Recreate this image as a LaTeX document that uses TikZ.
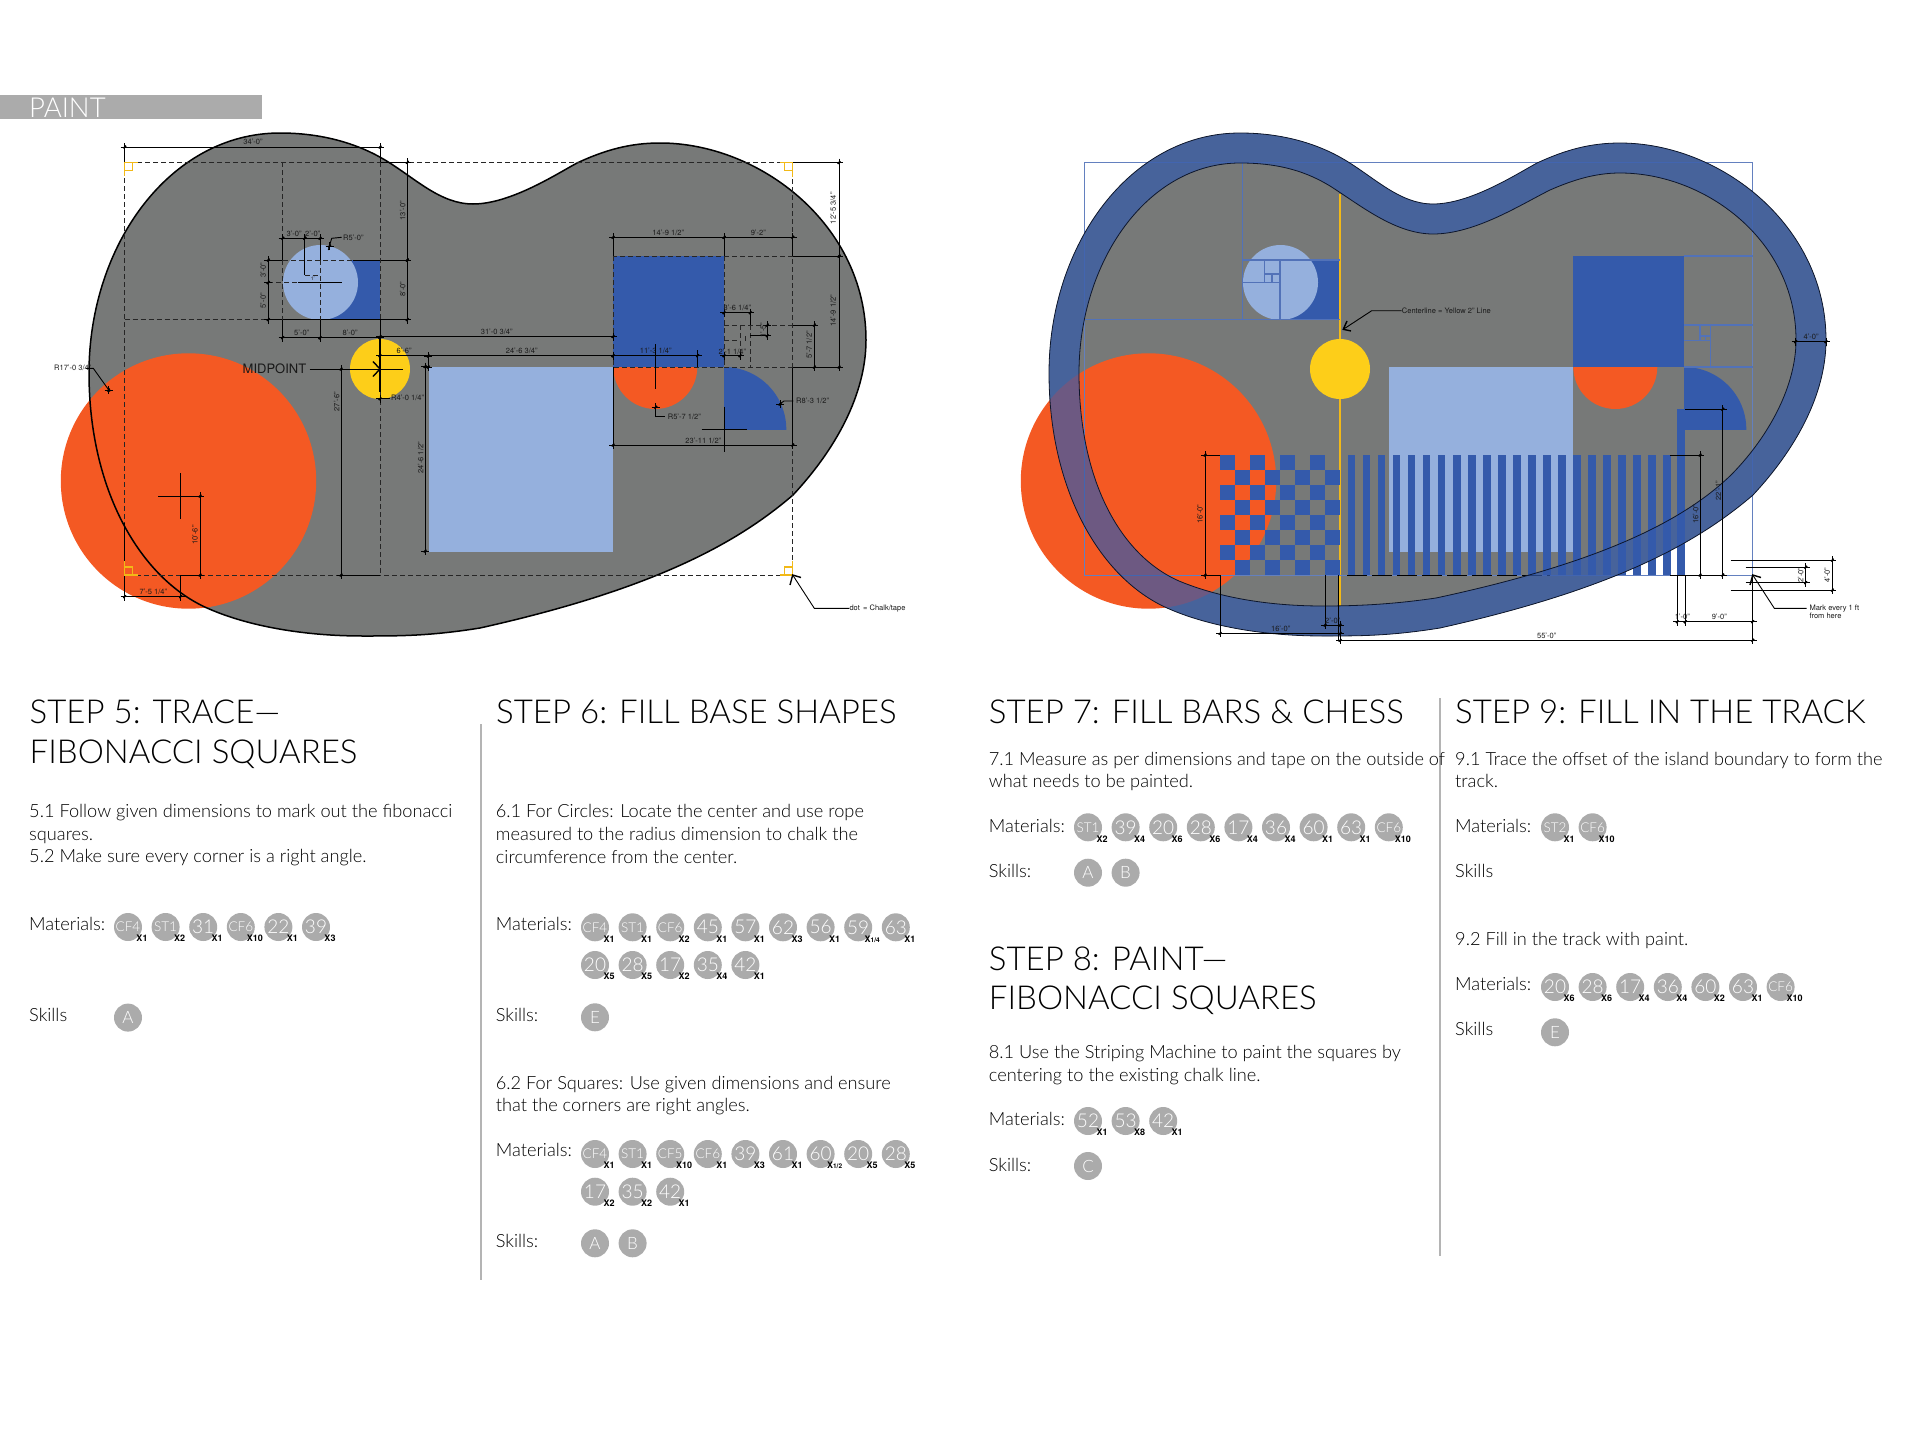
\documentclass[tikz,border=0pt]{standalone}
\usepackage{fontspec}
\setmainfont{TeX Gyre Heros}
\newfontfamily\lf{Lato Light}
\usetikzlibrary{arrows.meta}
\definecolor{isl}{HTML}{777978}
\definecolor{org}{HTML}{F45923}
\definecolor{yel}{HTML}{FDCE19}
\definecolor{ltb}{HTML}{95B0DD}
\definecolor{blu}{HTML}{345AAB}
\definecolor{pbar}{HTML}{ABABAB}
\definecolor{gold}{HTML}{F2B917}
\definecolor{fib}{HTML}{5272B8}
\definecolor{rule}{HTML}{B4B4B4}
\tikzset{
 dim/.style={line width=0.9pt,black},
 dsh/.style={line width=0.9pt,black!85,dash pattern=on 5pt off 3pt},
 fibl/.style={line width=1.2pt,fib},
 small/.style={inner sep=0pt,font=\fontsize{7.5}{7.5}\selectfont,text=black!90},
 stitle/.style={anchor=base west,inner sep=0pt,font=\lf\fontsize{33}{33}\selectfont,text=black},
 body/.style={anchor=base west,inner sep=0pt,font=\lf\fontsize{18.2}{18.2}\selectfont,text=black},
 disc/.style={circle,fill=pbar,inner sep=0pt,minimum size=28pt,text=white,font=\lf\fontsize{19}{19}\selectfont},
 qty/.style={inner sep=0pt,font=\fontsize{9}{9}\selectfont\bfseries,text=black},
}
\newcommand\sm{\fontsize{13.5}{13.5}\selectfont}
\newcommand\xq{X{\fontsize{6.5}{6.5}\selectfont 1/4}}
\newcommand\xh{X{\fontsize{6.5}{6.5}\selectfont 1/2}}
\newcommand\dtick[2]{\draw[dim] ({#1-4},#2) -- ({#1+4},#2) (#1,{#2-4}) -- (#1,{#2+4}); \draw[line width=1.5pt] ({#1-1.3},{#2+1.3}) -- ({#1+1.3},{#2-1.3});}
\newcommand\dimH[3]{\draw[dim] (#1,#3) -- (#2,#3); \dtick{#1}{#3}\dtick{#2}{#3}}
\newcommand\dimV[3]{\draw[dim] (#1,#2) -- (#1,#3); \dtick{#1}{#2}\dtick{#1}{#3}}
\newcommand\lab[3]{\node[small] at (#1,#2) {#3};}
\newcommand\labW[3]{\node[small,anchor=west] at (#1,#2) {#3};}
\newcommand\labV[3]{\node[small,rotate=90] at (#1,#2) {#3};}
\newcommand\ycorner[4]{\draw[gold,line width=1.2pt] (#1,#2) rectangle ({#1+8*#3},{#2+8*#4}) (#1,#2) -- ({#1+13*#3},#2) (#1,#2) -- (#1,{#2+14*#4});}
\newcommand\discs[3]{\foreach \a/\b [count=\i from 0] in {#3}{\node[disc] at ({#1+\i*37.6},#2) {\a}; \node[qty] at ({#1+\i*37.6+14},{#2+11.5}) {\b};}}
\newcommand\skl[3]{\foreach \a [count=\i from 0] in {#3}{\node[disc,font=\lf\fontsize{17}{17}\selectfont] at ({#1+\i*37.6},#2) {\a};}}
\newcommand\txt[3]{\node[body] at (#1,#2) {#3};}
\newcommand\ttl[3]{\node[stitle] at (#1,{#2+1}) {#3};}
% outer island boundary
\newcommand\outerB{(89,373) .. controls (89,245) and (170,133) .. (280,133)
 .. controls (325,133) and (360,145) .. (385,160)
 .. controls (415,178) and (440,204) .. (473,204)
 .. controls (510,204) and (555,175) .. (577,163)
 .. controls (605,150) and (630,143) .. (660,143)
 .. controls (760,143) and (866,225) .. (866,340)
 .. controls (866,395) and (835,450) .. (793,495)
 .. controls (735,545) and (650,590) .. (480,628)
 .. controls (430,636) and (400,636) .. (363,636)
 .. controls (300,636) and (245,625) .. (207,608)
 .. controls (140,578) and (89,490) .. (89,373) -- cycle}
\newcommand\innerB{(119,373) .. controls (119,262) and (187,163) .. (280,163)
 .. controls (320,163) and (347,172) .. (370,186)
 .. controls (400,205) and (435,234) .. (473,234)
 .. controls (515,234) and (560,205) .. (590,190)
 .. controls (613,180) and (635,173) .. (660,173)
 .. controls (745,173) and (836,240) .. (836,340)
 .. controls (836,385) and (810,435) .. (772,474)
 .. controls (720,525) and (630,565) .. (476,598)
 .. controls (435,604) and (400,606) .. (363,606)
 .. controls (310,606) and (260,598) .. (219,581)
 .. controls (160,555) and (119,480) .. (119,373) -- cycle}
\newcommand\baseshapes{%
 \fill[isl] \outerB;
 \fill[org] (188.5,481) circle[radius=127.7pt];
 \fill[blu] (320,260) rectangle (380,319.7);
 \fill[ltb] (320.5,282.5) circle[radius=37.5pt];
 \fill[yel] (380,369) circle[radius=30pt];
 \fill[ltb] (429,367) rectangle (613,552);
 \fill[blu] (613,256) rectangle (724,367);
 \begin{scope}\clip (613,367) rectangle (698,410); \fill[org] (655.3,367) circle[radius=42pt];\end{scope}
 \begin{scope}\clip (724,367) rectangle (787,429.3); \fill[blu] (724,429.3) circle[radius=62.3pt];\end{scope}
}
\begin{document}
\begin{tikzpicture}[x=1pt,y=-1pt]
\useasboundingbox (0,0) rectangle (1920,1440);
% header
\fill[pbar] (0,94.7) rectangle (262,119.3);
\node[anchor=base west,inner sep=0pt,text=white,font=\lf\fontsize{27.5}{27.5}\selectfont] at (29,117) {PAINT};
% ---------- LEFT PANEL ----------
\baseshapes
\draw[black,line width=1.5pt] \outerB;
\draw[dsh] (124.7,162.3) rectangle (792.7,575);
\draw[dsh] (613,256) rectangle (724,367);
\draw[dsh] (124.7,319.5) -- (268,319.5);
\draw[dsh] (283,260) -- (353,260);
\draw[dim] (353,260) -- (407,260) (268,319.5) -- (407,319.5) (268,260) -- (283,260) (380,162.3) -- (407.3,162.3);
\draw[dsh] (268,282.5) -- (298,282.5); \draw[dim] (298,282.5) -- (342,282.5);
\draw[dsh] (282.7,162.3) -- (282.7,238) (282.7,260) -- (282.7,320);
\draw[dim] (282.7,238) -- (282.7,260) (282.7,320) -- (282.7,342);
\draw[dim] (304.7,238) -- (304.7,275);
\draw[dim] (320,238) -- (320,260) (320,320) -- (320,342);
\draw[dsh] (320,260) -- (320,320) (304.7,275) -- (320,275);
\node[small,font=\fontsize{5}{5}\selectfont] at (312.7,278.5) {1'};
\dimH{124.7}{380}{147} \lab{253}{142.3}{34'-0"}
\draw[dim] (124.7,147) -- (124.7,162.3) (380,147) -- (380,162.3);
\draw[dsh] (380,162.3) -- (380,319.5) (380,392) -- (380,575);
\draw[dim] (380,319.5) -- (380,339);
\draw[line width=1.4pt] (380,339) -- (380,392);
\dimV{407.3}{162.3}{260} \labV{402.7}{210.7}{13'-0"}
\dimV{407.3}{260}{319.5} \labV{402.7}{289}{8'-0"}
\dimV{268.3}{260}{282.5} \labV{263.3}{270}{3'-0"}
\dimV{268.3}{282.5}{319.5} \labV{263.3}{300.7}{5'-0"}
\dimH{282.7}{304.7}{238.3} \lab{294}{234}{3'-0"}
\dimH{304.7}{320}{238.3} \lab{312.7}{234}{2'-0"}
\dimH{282.7}{320}{337.7} \lab{301.7}{333.3}{5'-0"}
\dimH{320}{380}{337.7} \lab{350}{333.3}{8'-0"}
\draw[dim] (328.3,250) -- (331.7,238.3) -- (341.7,237.3); \dtick{329.5}{246}
\labW{343}{237.5}{R5'-0"}
\labW{54}{368.3}{R17'-0 3/4"}
\draw[dim] (86,368.3) -- (93.3,368.3) -- (110,391.7); \dtick{108.5}{390}
\node[inner sep=0pt,anchor=east,font=\fontsize{13}{13}\selectfont,text=black!90] (mid) at (306.5,369) {MIDPOINT};
\coordinate (midend) at (402.7,369);
\coordinate (midtip) at (380,369);
\draw[dim] (mid.east) ++(3,0) -- (midend);
\draw[line width=1.4pt] (373,361.5) -- (midtip) -- (373,376.5);
\dimH{380}{613}{336.5} \lab{496.7}{331.7}{31'-0 3/4"}
\dimH{380}{613}{355.7} \lab{521.7}{351}{24'-6 3/4"}
\lab{404}{351}{6'-6"}
\dimV{428.3}{356}{367}
\dimV{425}{366.5}{551} \labV{420.7}{458}{24'-6 1/2"}
\dimV{341}{369}{575} \labV{336.7}{401.7}{27'-6"}
\draw[dim] (341,575) -- (380,575);
\dtick{380}{398.7}\draw[dim] (380,398.7) -- (390,398.7);
\labW{391}{398.3}{R4'-0 1/4"}
% orange cross
\draw[dim] (158,496) -- (204,496) (180.7,473) -- (180.7,519);
\dimV{200}{496}{575} \labV{195}{535}{10'-6"}
\draw[dim] (180.7,575) -- (200,575);
\dimH{124.7}{180.7}{596.7} \lab{153.3}{591.7}{7'-5 1/4"}
\draw[dim] (124.7,523) -- (124.7,596.7) (180.7,575) -- (180.7,596.7);
% right side
\dimV{839}{162.5}{256} \labV{833.3}{208.3}{12'-5 3/4"}
\dimV{839}{256}{367} \labV{833.3}{310.7}{14'-9 1/2"}
\draw[dim] (792.7,162.5) -- (839,162.5) (792.7,256) -- (839,256) (792.7,367) -- (839,367);
\dimH{613}{724}{237.3} \lab{668.3}{232.7}{14'-9 1/2"}
\dimH{724}{792.7}{237.3} \lab{758.3}{232.7}{9'-2"}
\draw[dim] (613,237.3) -- (613,256) (724,237.3) -- (724,256) (792.7,237.3) -- (792.7,256) (792.7,367) -- (792.7,445);
\draw[dsh] (724,256) -- (792.7,256) (724,367) -- (792.7,367) (724,325) -- (792.7,325) (750.3,325) -- (750.3,367) (740,325) -- (740,355.7) (724,340.7) -- (740,340.7) (745,336) -- (745,341);
\dimH{724}{750.3}{312.7} \lab{737.3}{308.3}{3'-6 1/4"}
\draw[dim] (750.3,312.7) -- (750.3,325) (750.3,335.7) -- (767.3,335.7) (792.7,325) -- (814.3,325) (792.7,367) -- (814.3,367);
\dimV{814.3}{325}{367} \labV{809.3}{345}{5'-7 1/2"}
\dimV{767.3}{325}{335.7} \labV{763.3}{330}{1'-5"}
\dimH{724}{740}{355.7} \lab{732.3}{351.7}{2'-1 1/4"}
\dimH{613}{697.7}{355.7} \lab{655.7}{351}{11'-3 1/4"}
\draw[dim] (697.7,350) -- (697.7,367);
\draw[dim] (655.3,344) -- (655.3,389.3);
\dtick{655.7}{407.3}\draw[dim] (655.7,407.3) -- (655.7,416.7) -- (665,416.7);
\labW{667.7}{416.7}{R5'-7 1/2"}
\draw[dim] (701.7,429.3) -- (746.7,429.3) (724,406.7) -- (724,452.3);
\draw[dim] (778.3,405) -- (784,401) -- (793.3,401); \dtick{780}{404}
\labW{796}{401}{R8'-3 1/2"}
\dimH{613}{792.7}{445} \lab{703.3}{440.7}{23'-11 1/2"}
\draw[dim] (613,367) -- (613,445);
\ycorner{124.7}{162.3}{1}{1}
\ycorner{792.7}{162.5}{-1}{1}
\ycorner{124.7}{575}{1}{-1}
\ycorner{792.7}{575}{-1}{-1}
\coordinate (dottip) at (792.7,575); \coordinate (dotb) at (814.3,608.3);
\node[small,anchor=west] (dotlab) at (849.3,608.3) {dot\, = Chalk/tape};
\draw[dim] (dottip) -- (dotb) -- (dotlab.west);
\draw[line width=1.4pt] (790,585) -- (dottip) -- (801,577.5);
% ---------- RIGHT PANEL ----------
\begin{scope}[xshift=960pt]
\baseshapes
\end{scope}
\draw[gold,line width=2pt] (1340,194) -- (1340,339) (1340,399) -- (1340,606);
\fill[blu] (1677.3,409.3) rectangle (1685.3,575);
\fill[blu] (1677.3,409.3) rectangle (1724,429.3);
\foreach \k in {0,...,21}{\fill[blu] ({1347.67+15.03*\k},455) rectangle ({1355.3+15.03*\k},575);}
\foreach \r in {0,...,7}{\foreach \c in {0,...,7}{\pgfmathparse{int(mod(\r+\c,2))}\ifnum\pgfmathresult=0 \fill[blu] ({1220+15*\c},{455+15*\r}) rectangle ({1235+15*\c},{470+15*\r});\fi}}
\draw[line width=1pt,fib!90!white] (1084.7,162.5) rectangle (1752.7,575);
\draw[fibl] (1085,319.7) -- (1340,319.7) (1242.7,162.5) -- (1242.7,319.7) (1242.7,260) -- (1340,260)
 (1280,260) -- (1280,319.7) (1242.7,282.4) -- (1280,282.4) (1264.7,260) -- (1264.7,282.4) (1264.7,274) -- (1280,274) (1272,274) -- (1272,282.4);
\draw[fibl] (1684.3,256) -- (1752.7,256) (1684.3,325) -- (1752.7,325) (1684.3,367) -- (1752.7,367) (1710.3,325) -- (1710.3,367) (1684.3,340.7) -- (1710.3,340.7) (1700,325) -- (1700,340.7) (1700,336) -- (1710.3,336) (1705.3,336) -- (1705.3,340.7);
\draw[black,line width=1pt,dash pattern=on 20pt off 5pt] (1347,575) -- (1550,575);
\begin{scope}[xshift=960pt]
\fill[blu,fill opacity=0.7,even odd rule] \outerB \innerB;
\draw[black!75!blu,line width=0.8pt] \outerB;
\draw[black!75!blu,line width=0.8pt] \innerB;
\end{scope}
% right dims
\dimV{1205}{455}{575} \labV{1200}{514.3}{16'-0"}
\draw[dim] (1205,455) -- (1220,455) (1205,575) -- (1220,575) (1220,575) -- (1220,633.3) (1325,575) -- (1325,625) (1338.7,575) -- (1338.7,641);
\dimH{1220}{1340}{633.3} \lab{1280.7}{629}{16'-0"}
\dimH{1325}{1340}{625} \lab{1332.7}{620.7}{2'-0"}
\dimH{1340}{1752.7}{640.3} \lab{1546.7}{636}{55'-0"}
\dimV{1700}{455}{575} \labV{1695.7}{514.3}{16'-0"}
\draw[dim] (1670,455) -- (1700,455) (1670,575) -- (1723,575);
\dimV{1722.7}{409.3}{575} \labV{1718.3}{490.7}{22'-1"}
\draw[dim] (1685,409.3) -- (1722.7,409.3);
\dimH{1677.3}{1685.3}{621.7} \lab{1682.3}{616.7}{1'-0"}
\dimH{1685.3}{1752.7}{621.7} \lab{1719.3}{616.7}{9'-0"}
\draw[dim] (1677.3,575) -- (1677.3,621.7) (1685.3,575) -- (1685.3,621.7);
\draw[line width=1.3pt] (1752.7,575) -- (1752.7,640);
\dimV{1832.3}{560}{590} \labV{1827.3}{575}{4'-0"}
\draw[dim] (1730.7,560) -- (1832.3,560) (1730.7,590) -- (1832.3,590);
\dimV{1805.7}{567.3}{582.7} \labV{1800.7}{575}{2'-0"}
\draw[dim] (1745.7,567.3) -- (1805.7,567.3) (1745.7,582.7) -- (1805.7,582.7);
\coordinate (marktip) at (1752.7,575); \coordinate (markb) at (1774.3,608.3);
\coordinate (markend) at (1806.7,608.3);
\draw[dim] (marktip) -- (markb) -- (markend);
\draw[line width=1.4pt] (1750,585) -- (marktip) -- (1761,577.5);
\node[small,anchor=west] at (1809.3,608.3) {Mark every 1 ft};
\node[small,anchor=west] at (1809.3,616) {from here};
\coordinate (ctip) at (1343.3,329.3); \coordinate (cb) at (1371.7,310.7);
\node[small,anchor=west] (clab) at (1401.7,310.7) {Centerline = Yellow 2" Line};
\draw[dim] (ctip) -- (cb) -- (clab.west);
\draw[line width=1.4pt] (1351,331) -- (ctip) -- (1347,321);
\dimH{1795.7}{1826}{341.7} \lab{1811}{337.3}{4'-0"}
% ---------- TEXT ----------
\draw[rule,line width=1.5pt] (481,724) -- (481,1280) (1440,698) -- (1440,1256);
% step 5
\ttl{29.5}{722.7}{STEP 5: TRACE—}
\ttl{29.5}{762.7}{FIBONACCI SQUARES}
\txt{29}{817.7}{5.1 Follow given dimensions to mark out the fibonacci}
\txt{29}{840}{squares.}
\txt{29}{862.7}{5.2 Make sure every corner is a right angle.}
\txt{29}{930.7}{Materials:}
\discs{128}{927}{{\sm CF4}/X1,{\sm ST1}/X2,31/X1,{\sm CF6}/X10,22/X1,39/X3}
\txt{29}{1021}{Skills}
\skl{128}{1017.6}{A}
% step 6
\ttl{496}{722.7}{STEP 6: FILL BASE SHAPES}
\txt{495.7}{817.3}{6.1 For Circles: Locate the center and use rope}
\txt{495.7}{840.3}{measured to the radius dimension to chalk the}
\txt{495.7}{863}{circumference from the center.}
\txt{495.7}{930.7}{Materials:}
\discs{595}{927.3}{{\sm CF4}/X1,{\sm ST1}/X1,{\sm CF6}/X2,45/X1,57/X1,62/X3,56/X1,59/\xq,63/X1}
\discs{595}{965}{20/X5,28/X5,17/X2,35/X4,42/X1}
\txt{495.7}{1021.3}{Skills:}
\skl{595}{1017.3}{E}
\txt{495.7}{1089}{6.2 For Squares: Use given dimensions and ensure}
\txt{495.7}{1111.7}{that the corners are right angles.}
\txt{495.7}{1156.7}{Materials:}
\discs{595}{1154}{{\sm CF4}/X1,{\sm ST1}/X1,{\sm CF5}/X10,{\sm CF6}/X1,39/X3,61/X1,60/\xh,20/X5,28/X5}
\discs{595}{1191.7}{17/X2,35/X2,42/X1}
\txt{495.7}{1247.3}{Skills:}
\skl{595}{1243.3}{A,B}
% step 7
\ttl{988.7}{722.7}{STEP 7: FILL BARS \& CHESS}
\txt{988.7}{765}{7.1 Measure as per dimensions and tape on the outside of}
\txt{988.7}{787.7}{what needs to be painted.}
\txt{988.7}{832.3}{Materials:}
\discs{1088}{827.3}{{\sm ST1}/X2,39/X4,20/X6,28/X6,17/X4,36/X4,60/X1,63/X1,{\sm CF6}/X10}
\txt{988.7}{877.7}{Skills:}
\skl{1088}{872.7}{A,B}
% step 8
\ttl{988.7}{969}{STEP 8: PAINT—}
\ttl{988.7}{1008.7}{FIBONACCI SQUARES}
\txt{988.7}{1058.3}{8.1 Use the Striping Machine to paint the squares by}
\txt{988.7}{1081}{centering to the existing chalk line.}
\txt{988.7}{1125.7}{Materials:}
\discs{1088}{1121}{52/X1,53/X8,42/X1}
\txt{988.7}{1171}{Skills:}
\skl{1088}{1166}{C}
% step 9
\ttl{1455}{722.7}{STEP 9: FILL IN THE TRACK}
\txt{1455}{765}{9.1 Trace the offset of the island boundary to form the}
\txt{1455}{787.7}{track.}
\txt{1455}{832.3}{Materials:}
\discs{1555}{827.3}{{\sm ST2}/X1,{\sm CF6}/X10}
\txt{1455}{877.7}{Skills}
\txt{1455}{945.7}{9.2 Fill in the track with paint.}
\txt{1455}{990.7}{Materials:}
\discs{1555}{987}{20/X6,28/X6,17/X4,36/X4,60/X2,63/X1,{\sm CF6}/X10}
\txt{1455}{1035.7}{Skills}
\skl{1555}{1032.3}{E}
\end{tikzpicture}
\end{document}
